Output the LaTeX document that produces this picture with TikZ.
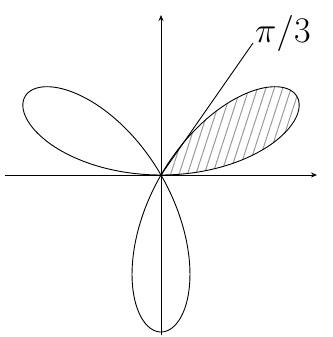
\documentclass[tikz,border=0pt]{standalone}
\usetikzlibrary{arrows.meta,patterns.meta,positioning}
\begin{document}
\begin{tikzpicture}[x=1pt,y=1pt,line width=0.9pt,
  axis/.style={-{Stealth[length=6pt,width=5pt]}},
  petal/.style={smooth,samples=80}]
  \useasboundingbox (-161,-162) rectangle (171,175);
  \coordinate (O) at (0,0);
  \coordinate (xl) at (-156,0);
  \coordinate (xr) at (156,0);
  \coordinate (yb) at (0,-160);
  \coordinate (yt) at (0,160);
  \coordinate (ray) at (92,132);
  \fill[pattern={Lines[angle=72,distance=8pt,line width=1pt]},pattern color=gray!80]
    plot[petal,domain=0:60] (\x:{157*sin(3*\x)}) -- cycle;
  \draw[axis] (xl) -- (xr);
  \draw[axis] (yb) -- (yt);
  \draw (O) -- (ray);
  \draw plot[petal,domain=0:60] (\x:{157*sin(3*\x)}) -- cycle;
  \draw plot[petal,domain=60:120] (\x:{157*sin(3*\x)}) -- cycle;
  \draw plot[petal,domain=120:180] (\x:{157*sin(3*\x)}) -- cycle;
  \node[right=0pt of ray,yshift=10pt,font=\Huge,scale=1.45,inner sep=1pt] (lbl) {$\pi/3$};
\end{tikzpicture}
\end{document}
